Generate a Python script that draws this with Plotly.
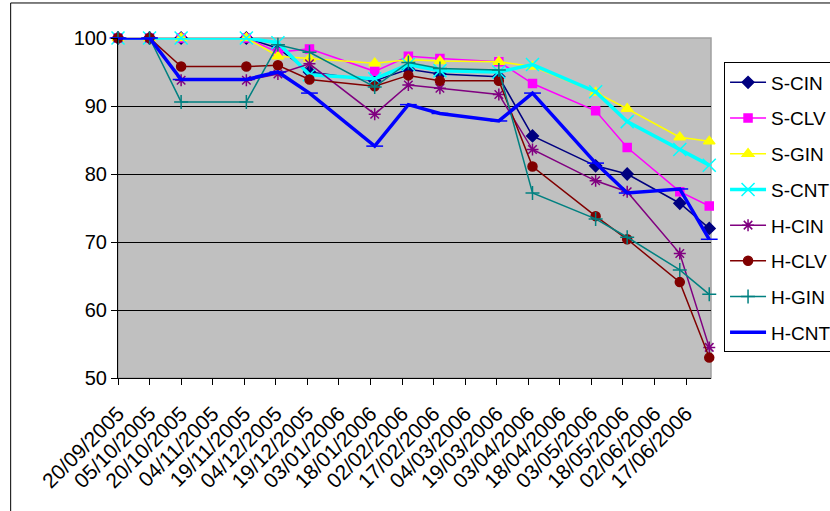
import plotly.graph_objects as go

# Sampling dates
dates = ["2005-09-20", "2005-10-05", "2005-10-20", "2005-11-20", "2005-12-05",
         "2005-12-20", "2006-01-20", "2006-02-05", "2006-02-20", "2006-03-20",
         "2006-04-05", "2006-05-05", "2006-05-20", "2006-06-14", "2006-06-28"]

s_cin = [100, 100, 100, 100, 98.5, 95.0, 93.7, 95.4, 94.7, 94.3, 85.6, 81.2, 80.0, 75.7, 72.0]
s_clv = [100, 100, 100, 100, 97.9, 98.4, 95.1, 97.3, 97.0, 96.5, 93.3, 89.3, 83.9, 77.4, 75.3]
s_gin = [100, 100, 100, 100, 97.3, 97.0, 96.3, 96.8, 96.6, 96.5, 95.8, 92.0, 89.6, 85.4, 84.8]
s_cnt = [100, 100, 100, 100, 99.3, 94.6, 94.0, 96.1, 95.2, 95.0, 96.1, 92.1, 87.7, 83.6, 81.3]
h_cin = [100, 100, 93.8, 93.8, 94.7, 96.2, 88.8, 93.1, 92.6, 91.7, 83.6, 79.0, 77.4, 68.3, 54.5]
h_clv = [100, 100, 95.8, 95.8, 96.0, 93.9, 92.9, 94.5, 93.7, 93.7, 81.1, 73.8, 70.4, 64.1, 53.0]
h_gin = [100, 100, 90.6, 90.6, 99.0, 97.9, 92.8, 96.4, 95.5, 95.3, 77.2, 73.4, 70.7, 65.9, 62.3]
h_cnt = [100, 100, 93.9, 93.9, 95.0, 91.9, 84.1, 90.2, 88.9, 87.8, 91.9, 81.6, 77.2, 77.8, 70.4]

y_ticks = [50, 60, 70, 80, 90, 100]

series = [
    ("S-CIN", s_cin, "#000080", "diamond", 9, 1.5),
    ("S-CLV", s_clv, "#FF00FF", "square", 8, 1.5),
    ("S-GIN", s_gin, "#FFFF00", "triangle-up", 10, 1.5),
    ("S-CNT", s_cnt, "#00FFFF", "x-thin-open", 13, 3.5),
    ("H-CIN", h_cin, "#800080", "asterisk-open", 10, 1.5),
    ("H-CLV", h_clv, "#800000", "circle", 9, 1.5),
    ("H-GIN", h_gin, "#008080", "cross-thin-open", 10, 1.5),
    ("H-CNT", h_cnt, "#0000FF", "line-ew-open", 12, 3.5),
]

fig = go.Figure()
for name, vals, color, symbol, size, width in series:
    fig.add_trace(go.Scatter(
        x=dates, y=vals, name=name, legendgroup=name,
        mode="lines+markers",
        line=dict(color=color, width=width),
        marker=dict(symbol=symbol, size=size, color=color,
                    line=dict(color=color, width=1.5)),
        cliponaxis=False,
    ))

FONT = "Liberation Sans, Arial, sans-serif"

fig.update_layout(
    width=830, height=511,
    margin=dict(l=118, r=119, t=38, b=133, autoexpand=False),
    paper_bgcolor="white",
    plot_bgcolor="#C0C0C0",
    font=dict(family=FONT, color="black"),
    showlegend=True,
    legend=dict(
        x=1.022, xanchor="left", y=0.928, yanchor="top",
        bordercolor="black", borderwidth=1, bgcolor="white",
        font=dict(family=FONT, size=19, color="black"),
        traceorder="grouped", tracegroupgap=8, itemwidth=36,
    ),
    xaxis=dict(
        type="date",
        range=["2005-09-20", "2006-06-28 20:00"],
        tick0="2005-09-20", dtick=15 * 86400000,
        tickformat="%d/%m/%Y", tickangle=-45,
        ticks="outside", ticklen=6, tickcolor="black",
        ticklabelstandoff=8,
        tickfont=dict(family=FONT, size=21, color="black"),
        showgrid=False, showline=True, linecolor="black", linewidth=1,
        zeroline=False,
    ),
    yaxis=dict(
        range=[50, 100], tickvals=y_ticks,
        ticks="outside", ticklen=6, tickcolor="black",
        tickfont=dict(family=FONT, size=20, color="black"),
        showgrid=True, gridcolor="black", gridwidth=1,
        showline=True, linecolor="black", linewidth=1,
        zeroline=False,
    ),
    shapes=[
        # plot-area frame
        dict(type="rect", xref="paper", yref="paper", x0=0, x1=1, y0=0, y1=1,
             line=dict(color="#A0A0A0", width=1.5), layer="below"),
        # chart-area border
        dict(type="rect", xref="paper", yref="paper",
             x0=-0.181, x1=1.5, y0=-0.5, y1=1.103,
             line=dict(color="black", width=1), layer="below"),
    ],
)

fig.write_html("out.html")
